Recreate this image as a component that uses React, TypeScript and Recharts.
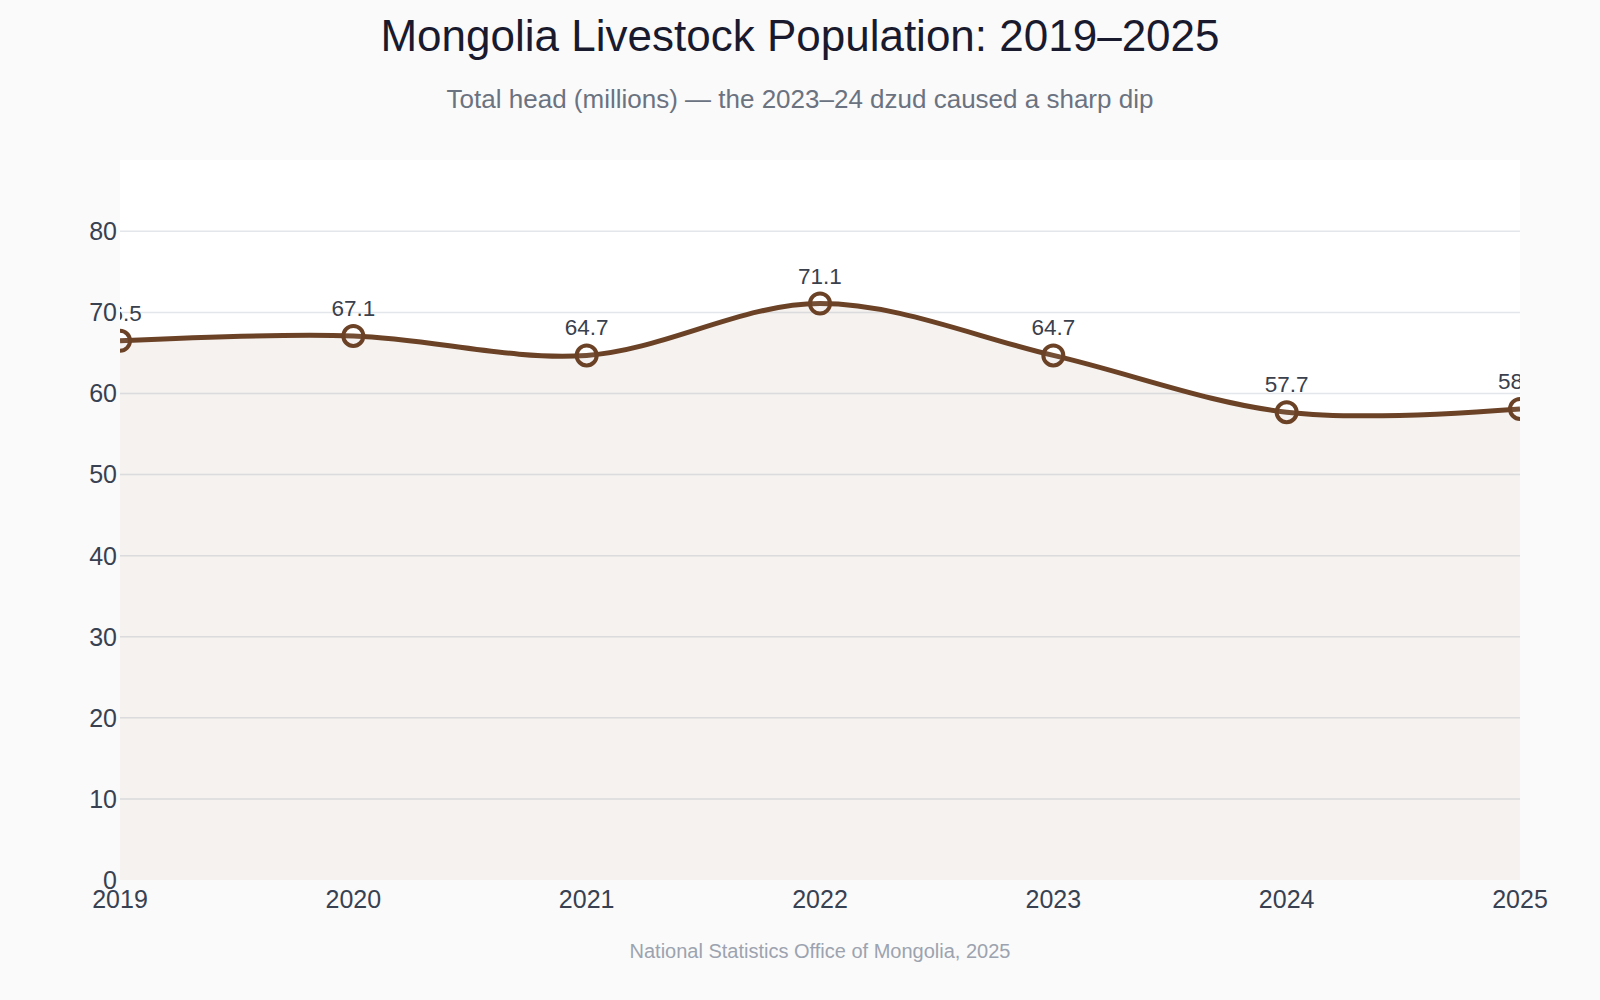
import React from "react";
import { AreaChart, Area, XAxis, YAxis, CartesianGrid, LabelList } from "recharts";

const years = ["2019", "2020", "2021", "2022", "2023", "2024", "2025"];
const headMillions = [66.5, 67.1, 64.7, 71.1, 64.7, 57.7, 58.1];
const yTicks = [0, 10, 20, 30, 40, 50, 60, 70, 80];
const yDomain = [0, 88.8];

const data = years.map((y, i) => ({ year: y, value: headMillions[i] }));

const W = 1600;
const H = 1000;
const Y_W = 60;
const MARGIN = { top: 160, right: 80, bottom: 90, left: 60 };
const PLOT_L = MARGIN.left + Y_W;
const PLOT_R = W - MARGIN.right;
const PLOT_B = H - MARGIN.bottom - 30;

const FONT = '"Liberation Sans", Arial, Helvetica, sans-serif';
const BROWN = "#6b4226";

// Catmull-Rom style smoothing (centripetal), drawn as a d3-compatible curve factory
function makeTangent(prev: number[], cur: number[], next: number[], s: number) {
  const d1x = prev[0] - cur[0];
  const d1y = prev[1] - cur[1];
  const d2x = next[0] - cur[0];
  const d2y = next[1] - cur[1];
  const d1a = Math.pow(d1x * d1x + d1y * d1y, 0.25);
  const d2a = Math.pow(d2x * d2x + d2y * d2y, 0.25);
  const numx = (d2a * d2a * d1x - d1a * d1a * d2x) * s;
  const numy = (d2a * d2a * d1y - d1a * d1a * d2y) * s;
  const denom1 = 3 * d2a * (d1a + d2a);
  const denom2 = 3 * d1a * (d1a + d2a);
  return [
    [cur[0] + (denom1 ? numx / denom1 : 0), cur[1] + (denom1 ? numy / denom1 : 0)],
    [cur[0] - (denom2 ? numx / denom2 : 0), cur[1] - (denom2 ? numy / denom2 : 0)],
  ];
}

function smoothCurve(context: any) {
  return {
    _line: NaN as number,
    _pts: [] as number[][],
    areaStart() {
      this._line = 0;
    },
    areaEnd() {
      this._line = NaN;
    },
    lineStart() {
      this._pts = [];
    },
    lineEnd() {
      const p = this._pts;
      const n = p.length;
      if (n > 0) {
        if (this._line) context.lineTo(p[0][0], p[0][1]);
        else context.moveTo(p[0][0], p[0][1]);
        if (n === 2) {
          context.lineTo(p[1][0], p[1][1]);
        } else if (n > 2) {
          const t: number[][][] = [];
          for (let i = 1; i < n - 1; i++) t.push(makeTangent(p[i - 1], p[i], p[i + 1], 1));
          context.quadraticCurveTo(t[0][0][0], t[0][0][1], p[1][0], p[1][1]);
          for (let i = 2; i < n - 1; i++) {
            context.bezierCurveTo(
              t[i - 2][1][0], t[i - 2][1][1],
              t[i - 1][0][0], t[i - 1][0][1],
              p[i][0], p[i][1]
            );
          }
          context.quadraticCurveTo(t[n - 3][1][0], t[n - 3][1][1], p[n - 1][0], p[n - 1][1]);
        }
      }
      if (this._line || (this._line !== 0 && n === 1)) context.closePath();
      this._line = 1 - this._line;
    },
    point(x: number, y: number) {
      this._pts.push([+x, +y]);
    },
  };
}

const ClippedLabel = (props: any) => {
  const { x, y, value, index } = props;
  const id = `lblclip-${index}`;
  return (
    <g>
      <defs>
        <clipPath id={id}>
          <rect x={PLOT_L} y={0} width={PLOT_R - PLOT_L} height={PLOT_B} />
        </clipPath>
      </defs>
      <text
        x={x}
        y={y - 20}
        textAnchor="middle"
        fontSize={22.5}
        fontFamily={FONT}
        fill="#3a404c"
        clipPath={`url(#${id})`}
      >
        {Number(value).toFixed(1)}
      </text>
    </g>
  );
};

export default function App() {
  return (
    <div
      style={{
        position: "absolute",
        left: 0,
        top: 0,
        width: W,
        height: H,
        background: "#fafafa",
        fontFamily: FONT,
        overflow: "hidden",
      }}
    >
      <div
        style={{
          position: "absolute",
          left: 0,
          width: W,
          top: 12,
          textAlign: "center",
          fontSize: 44,
          lineHeight: "48px",
          color: "#1a1a2e",
        }}
      >
        Mongolia Livestock Population: 2019–2025
      </div>
      <div
        style={{
          position: "absolute",
          left: 0,
          width: W,
          top: 84,
          textAlign: "center",
          fontSize: 26,
          lineHeight: "30px",
          color: "#6b7280",
        }}
      >
        Total head (millions) — the 2023–24 dzud caused a sharp dip
      </div>
      <div style={{ position: "absolute", left: 0, top: 0 }}>
        <AreaChart width={W} height={H} data={data} margin={MARGIN}>
          <CartesianGrid
            vertical={false}
            horizontalValues={yTicks.filter((t) => t > 0)}
            stroke="#e3e6ea"
            strokeWidth={1.5}
            fill="#ffffff"
          />
          <XAxis
            dataKey="year"
            allowDataOverflow
            axisLine={false}
            tickLine={false}
            tickSize={0}
            tickMargin={10}
            tick={{ fontSize: 25, fill: "#374151", fontFamily: FONT }}
            interval={0}
          />
          <YAxis
            width={Y_W}
            domain={yDomain}
            ticks={yTicks}
            allowDataOverflow
            axisLine={false}
            tickLine={false}
            tickSize={0}
            tickMargin={3}
            tick={{ fontSize: 25, fill: "#374151", fontFamily: FONT }}
          />
          <Area
            type={smoothCurve as any}
            dataKey="value"
            stroke={BROWN}
            strokeWidth={5}
            fill={BROWN}
            fillOpacity={0.07}
            isAnimationActive={false}
            dot={{ r: 10, fill: "#ffffff", stroke: BROWN, strokeWidth: 4 }}
            activeDot={false}
          >
            <LabelList dataKey="value" content={ClippedLabel} />
          </Area>
        </AreaChart>
      </div>
      <div
        style={{
          position: "absolute",
          left: PLOT_L,
          width: PLOT_R - PLOT_L,
          top: 939,
          textAlign: "center",
          fontSize: 20,
          lineHeight: "24px",
          color: "#9ca3af",
        }}
      >
        National Statistics Office of Mongolia, 2025
      </div>
    </div>
  );
}
